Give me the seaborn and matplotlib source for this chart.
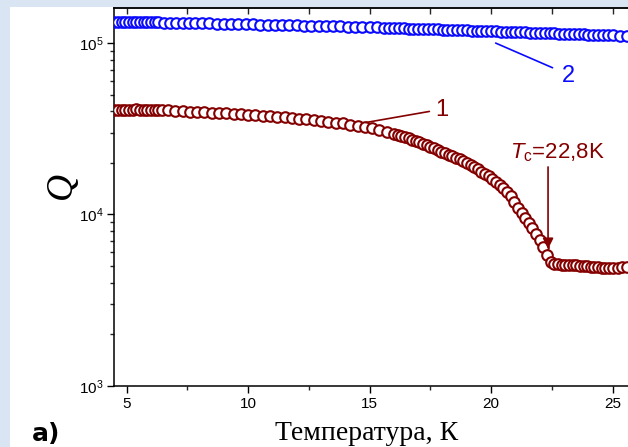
import numpy as np
import pandas as pd
import seaborn as sns
import matplotlib.pyplot as plt
from matplotlib.patches import Rectangle
from matplotlib.ticker import MultipleLocator, LogLocator, LogFormatterSciNotation, NullFormatter

# ---------------- data ----------------
# curve 1 (dark red)
t1 = [4.5, 4.65, 4.8, 4.95, 5.1, 5.25, 5.4, 5.55, 5.7, 5.85, 6.0, 6.15, 6.3, 6.45,
      6.7, 7.0, 7.3, 7.6, 7.9, 8.2, 8.5, 8.8, 9.1, 9.4, 9.7, 10.0, 10.3, 10.6, 10.9,
      11.2, 11.5, 11.8, 12.1, 12.4, 12.7, 13.0, 13.3, 13.6, 13.9, 14.2, 14.5, 14.8,
      15.1, 15.4, 15.7,
      16.0, 16.15, 16.3, 16.45, 16.6, 16.75, 16.9, 17.05, 17.2, 17.35, 17.5, 17.65,
      17.8, 17.95, 18.1, 18.25, 18.4, 18.55, 18.7, 18.85, 19.0, 19.15, 19.3, 19.45,
      19.6, 19.75, 19.9, 20.05, 20.2, 20.35, 20.5, 20.65, 20.8, 20.95, 21.1, 21.25,
      21.4, 21.55, 21.7, 21.85, 22.0, 22.15, 22.3, 22.45, 22.6,
      22.75, 22.9, 23.05, 23.2, 23.35, 23.5, 23.65, 23.8, 23.95, 24.1, 24.25, 24.4,
      24.55, 24.7, 24.85, 25.0, 25.2, 25.4, 25.6]
q1 = [40700, 40900, 40800, 41000, 40800, 40900, 41100, 40800, 41000, 40700, 40900, 40800, 40600, 40700,
      40500, 40300, 40200, 39900, 39700, 39500, 39300, 39100, 38900, 38600, 38400, 38100, 37900, 37600, 37400,
      37100, 36900, 36600, 36300, 35900, 35600, 35200, 34800, 34400, 34000, 33500, 33000, 32400,
      31800, 31200, 30500,
      29600, 29200, 28800, 28300, 27900, 27400, 26900, 26400, 25900, 25400, 24900, 24300,
      23800, 23300, 22800, 22300, 21900, 21400, 21000, 20600, 20000, 19400, 18900, 18400,
      17800, 17200, 16700, 16100, 15500, 14900, 14300, 13600, 12800, 11900, 10900, 10200,
      9500, 8900, 8300, 7700, 7100, 6500, 5800, 5300, 5150,
      5120, 5100, 5090, 5080, 5060, 5050, 5030, 5000, 4980, 4960, 4940, 4920,
      4900, 4880, 4860, 4840, 4870, 4920, 4960]

# curve 2 (blue)
t2 = [4.5, 4.65, 4.8, 4.95, 5.1, 5.25, 5.4, 5.55, 5.7, 5.85, 6.0, 6.15, 6.3,
      6.55, 6.8, 7.05, 7.3, 7.55, 7.8,
      8.1, 8.4, 8.7, 9.0, 9.3, 9.6, 9.9, 10.2, 10.5, 10.8, 11.1, 11.4, 11.7, 12.0,
      12.3, 12.6, 12.9, 13.2, 13.5, 13.8, 14.1, 14.4, 14.7, 15.0, 15.3, 15.6,
      15.8, 16.0, 16.2, 16.4, 16.6, 16.8, 17.0, 17.2, 17.4, 17.6, 17.8, 18.0, 18.2,
      18.4, 18.6, 18.8, 19.0, 19.2, 19.4, 19.6, 19.8, 20.0, 20.2, 20.4, 20.6, 20.8,
      21.0, 21.2, 21.4, 21.6, 21.8, 22.0, 22.2, 22.4, 22.6, 22.8, 23.0, 23.2, 23.4,
      23.6, 23.8, 24.0, 24.2, 24.4, 24.6, 24.8, 25.0, 25.3, 25.6]
q2 = [133000, 133100, 132900, 133000, 132800, 132900, 132700, 132800, 132600, 132700, 132500, 132600, 132400,
      132200, 132000, 131800, 131500, 131300, 131100,
      130900, 130600, 130400, 130100, 129900, 129600, 129300, 129000, 128700, 128400, 128100, 127800, 127500, 127200,
      126900, 126600, 126300, 126000, 125700, 125400, 125000, 124700, 124400, 124000, 123700, 123300,
      123000, 122700, 122500, 122200, 121900, 121700, 121400, 121200, 120900, 120600, 120400, 120100, 119800,
      119600, 119300, 119000, 118800, 118500, 118200, 118000, 117700, 117500, 117200, 116900, 116700, 116400,
      116200, 115900, 115600, 115400, 115100, 114900, 114600, 114400, 114100, 113800, 113600, 113300, 113100,
      112900, 112600, 112400, 112200, 111900, 111700, 111500, 111300, 111000, 110800]

red = '#840000'
blue = '#0a0aff'

sns.set_style('ticks')
plt.rcParams['font.family'] = ['Liberation Sans', 'DejaVu Sans']
plt.rcParams['mathtext.fontset'] = 'custom'
plt.rcParams['mathtext.rm'] = 'Liberation Sans'
plt.rcParams['mathtext.it'] = 'Liberation Sans:italic'

fig = plt.figure(figsize=(6.28, 4.47), dpi=100)
fig.patch.set_facecolor('#d9e5f3')
fig.add_artist(Rectangle((10 / 628, 0), 1, 1 - 7 / 447, transform=fig.transFigure,
                         facecolor='white', edgecolor='none', zorder=-5))

ax = fig.add_axes([0.1823, 0.1371, 0.8177, 0.8443])
ax.set_facecolor('white')

d1 = pd.DataFrame({'T': t1, 'Q': q1})
d2 = pd.DataFrame({'T': t2, 'Q': q2})
sns.scatterplot(data=d2, x='T', y='Q', ax=ax, marker='o', s=58, facecolor='white',
                edgecolor=blue, linewidth=1.5, zorder=3)
sns.scatterplot(data=d1, x='T', y='Q', ax=ax, marker='o', s=58, facecolor='white',
                edgecolor=red, linewidth=1.5, zorder=3)

ax.set_yscale('log')
ax.set_xlim(4.5, 25.63)
ax.set_ylim(1e3, 1.6e5)
ax.set_xlabel('')
ax.set_ylabel('')

for s in ['left', 'bottom', 'top']:
    ax.spines[s].set_linewidth(1.1)
    ax.spines[s].set_color('black')
ax.spines['right'].set_visible(False)

ax.xaxis.set_major_locator(MultipleLocator(5))
ax.xaxis.set_minor_locator(MultipleLocator(2.5))
ax.yaxis.set_major_locator(LogLocator(base=10))
ax.yaxis.set_major_formatter(LogFormatterSciNotation())
ax.yaxis.set_minor_locator(LogLocator(base=10, subs=np.arange(2, 10)))
ax.yaxis.set_minor_formatter(NullFormatter())
ax.tick_params(which='major', direction='out', length=5, width=1.0, labelsize=11,
               colors='black', pad=3)
ax.tick_params(which='minor', direction='out', length=3, width=1.0)

top = ax.secondary_xaxis('top')
top.xaxis.set_major_locator(MultipleLocator(5))
top.xaxis.set_minor_locator(MultipleLocator(2.5))
top.tick_params(which='both', direction='in', length=4.5, width=1.0, labeltop=False)
top.spines['top'].set_linewidth(1.1)

# annotations
ax.annotate('', xy=(17.57, 40240), xytext=(14.73, 34230),
            arrowprops=dict(arrowstyle='-', color=red, lw=1.2), zorder=5)
ax.text(17.69, 37610, '1', color=red, fontsize=17, ha='left', va='baseline')
ax.annotate('', xy=(22.63, 70880), xytext=(20.08, 101760),
            arrowprops=dict(arrowstyle='-', color=blue, lw=1.2), zorder=5)
ax.text(22.92, 59430, '2', color=blue, fontsize=17, ha='left', va='baseline')
ax.annotate('', xy=(22.34, 6287), xytext=(22.34, 18950),
            arrowprops=dict(arrowstyle='-|>', color=red, lw=1.2, mutation_scale=16,
                            shrinkA=0, shrinkB=0), zorder=5)
ax.text(20.77, 21380, r'$T_{\mathrm{c}}$=22,8K', color=red, fontsize=16,
        ha='left', va='baseline')

fig.text(367 / 628, 1 - 440 / 447, 'Температура, К', family='Liberation Serif',
         fontsize=20, ha='center', va='baseline', color='black')
fig.text(62 / 628, 1 - 185 / 447, 'Q', family='Liberation Serif', style='italic',
         fontsize=27, rotation=90, ha='center', va='center', color='black')
fig.text(32 / 628, 1 - 441 / 447, 'a)', family='DejaVu Sans', fontweight='bold',
         fontsize=18, ha='left', va='baseline', color='black')

fig.savefig('out.png', dpi=100, facecolor=fig.get_facecolor())
